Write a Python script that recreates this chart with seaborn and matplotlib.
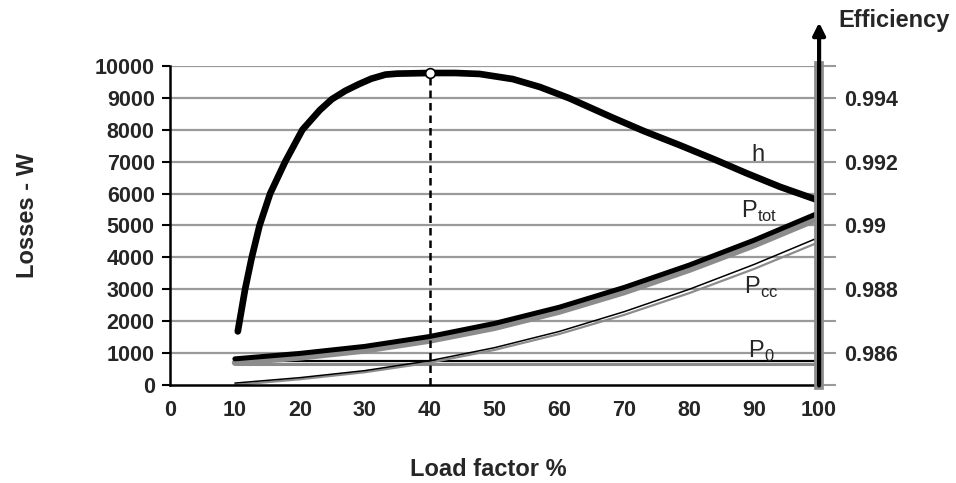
import numpy as np
import matplotlib
matplotlib.use('Agg')
import matplotlib.pyplot as plt
import seaborn as sns

# Load factor (%) for the loss curves
load = [10, 20, 30, 40, 50, 60, 70, 80, 90, 100]
# Losses in W (black and grey variants)
ptot_black = [820, 990, 1210, 1520, 1930, 2440, 3060, 3760, 4540, 5400]
ptot_grey = [700, 860, 1080, 1390, 1790, 2300, 2910, 3610, 4380, 5230]
pcc_black = [60, 230, 450, 760, 1170, 1680, 2300, 3000, 3780, 4630]
pcc_grey = [0, 180, 400, 700, 1100, 1600, 2200, 2880, 3640, 4480]
p0_black = [760] * 10
p0_grey = [650] * 10

# Efficiency curve (right axis), read point by point
load_eff = [10.45, 11.57, 12.6, 13.8, 15.43, 17.75, 20.4, 23.1, 24.95,
            27, 29.1, 31, 33.2, 35, 40, 44, 47.7, 52.8, 57, 61.5, 68.2,
            73, 78.5, 84, 88.8, 94, 100]
eff = [0.98668, 0.98800, 0.98900, 0.99000, 0.99100, 0.99200, 0.99300,
       0.99362, 0.99396, 0.99422, 0.99443, 0.99460, 0.99473, 0.99476,
       0.99478, 0.99478, 0.99475, 0.99459, 0.99434, 0.99399, 0.99338,
       0.99296, 0.99252, 0.99206, 0.99164, 0.99121, 0.99078]
peak_load = 40

sns.set_style('white')
plt.rcParams['font.family'] = ['Liberation Sans', 'DejaVu Sans']
plt.rcParams['mathtext.fontset'] = 'custom'
plt.rcParams['mathtext.rm'] = 'Liberation Sans'

fig = plt.figure(figsize=(9.56, 4.83), dpi=100)
ax = fig.add_axes([0.1778, 0.2029, 0.679, 0.6605])

# horizontal grid every 1000 W
for yv in range(1000, 10001, 1000):
    ax.axhline(yv, color='#9a9a9a', lw=1.6, zorder=0)

# loss curves
sns.lineplot(x=load, y=p0_grey, ax=ax, color='#8c8c8c', lw=2.2)
sns.lineplot(x=load, y=p0_black, ax=ax, color='black', lw=1.6)
sns.lineplot(x=load, y=pcc_grey, ax=ax, color='#8c8c8c', lw=1.6)
sns.lineplot(x=load, y=pcc_black, ax=ax, color='black', lw=1.1)
sns.lineplot(x=load, y=ptot_grey, ax=ax, color='#8c8c8c', lw=4.5)
sns.lineplot(x=load, y=ptot_black, ax=ax, color='black', lw=3.6)

ax.set_xlim(0, 100)
ax.set_ylim(0, 10000)
ax.set_xticks(range(0, 101, 10))
ax.set_yticks(range(0, 10001, 1000))
for s in ['top', 'right']:
    ax.spines[s].set_visible(False)
for s in ['left', 'bottom']:
    ax.spines[s].set_color('black')
    ax.spines[s].set_linewidth(1.8)
ax.tick_params(axis='both', which='major', direction='out', length=6,
               width=1.5, color='black', labelsize=15.5, pad=5)
for lab in ax.get_xticklabels() + ax.get_yticklabels():
    lab.set_fontweight('bold')

# efficiency on the twin axis
ax2 = ax.twinx()
ax2.set_ylim(0.985, 0.995)
sns.lineplot(x=load_eff, y=eff, ax=ax2, color='black', lw=4.8,
             solid_capstyle='round', solid_joinstyle='round')
peak_eff = eff[load_eff.index(peak_load)]
ax2.vlines(peak_load, 0.985, peak_eff, colors='black', linestyles=(0, (3, 2)),
           lw=1.8, zorder=3)
ax2.plot([peak_load], [peak_eff], 'o', ms=7, mfc='white', mec='black',
         mew=1.2, zorder=5)
ax2.set_yticks([0.986, 0.988, 0.99, 0.992, 0.994])
ax2.set_yticklabels(['0.986', '0.988', '0.99', '0.992', '0.994'])
ax2.set_yticks(np.arange(0.985, 0.9951, 0.001), minor=True)
ax2.yaxis.set_minor_formatter(plt.NullFormatter())
ax2.tick_params(axis='y', which='both', direction='out', length=12,
                width=1.5, color='#9a9a9a', labelsize=15.5, pad=6)
for lab in ax2.get_yticklabels():
    lab.set_fontweight('bold')
for s in ['top', 'left', 'bottom']:
    ax2.spines[s].set_visible(False)
ax2.spines['right'].set_color('#8c8c8c')
ax2.spines['right'].set_linewidth(7)

# black arrow axis on the right
ax2.annotate('', xy=(1, 1.145), xytext=(1, -0.01), xycoords='axes fraction',
             arrowprops=dict(arrowstyle='-|>', color='black', lw=3,
                             mutation_scale=18), annotation_clip=False)

# curve labels
ax.text(89.5, 7200, 'h', fontsize=17, va='center')
ax.text(88, 5450, r'P$_{\mathregular{tot}}$', fontsize=17, va='center')
ax.text(88.5, 3050, r'P$_{\mathregular{cc}}$', fontsize=17, va='center')
ax.text(89, 1050, r'P$_{\mathregular{0}}$', fontsize=17, va='center')

fig.text(28 / 956, 1 - 215 / 483, 'Losses - W', rotation=90, fontsize=17,
         fontweight='bold', ha='center', va='center')
fig.text(488 / 956, 1 - 470 / 483, 'Load factor %', fontsize=17,
         fontweight='bold', ha='center', va='center')
fig.text(838 / 956, 1 - 20 / 483, 'Efficiency', fontsize=17,
         fontweight='bold', ha='left', va='center')

fig.savefig('out.png', dpi=100, facecolor='white')
